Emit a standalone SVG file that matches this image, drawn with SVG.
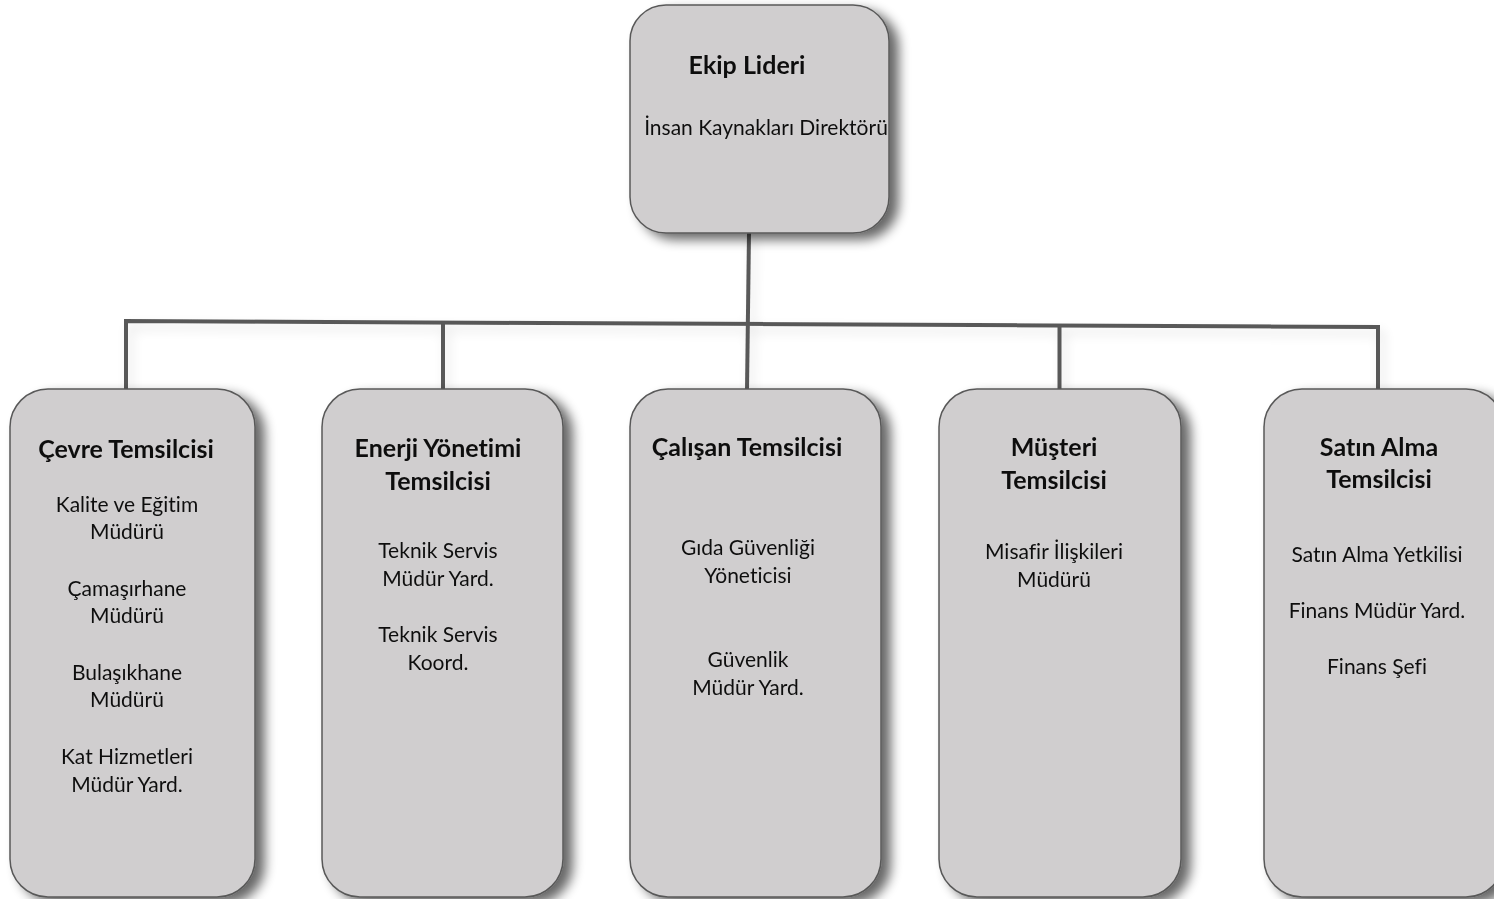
<svg xmlns="http://www.w3.org/2000/svg" width="1494" height="899" viewBox="0 0 1494 899">
<defs>
<filter id="sh" x="-20%" y="-20%" width="150%" height="150%">
<feGaussianBlur in="SourceAlpha" stdDeviation="6" result="b"/>
<feOffset in="b" dx="9" dy="6" result="o"/>
<feComponentTransfer in="o" result="c"><feFuncA type="linear" slope="0.6"/></feComponentTransfer>
<feMerge><feMergeNode in="c"/><feMergeNode in="SourceGraphic"/></feMerge>
</filter>
<filter id="lsh" x="-5%" y="-50%" width="110%" height="200%">
<feGaussianBlur in="SourceAlpha" stdDeviation="6" result="b"/>
<feOffset in="b" dx="4" dy="6" result="o"/>
<feComponentTransfer in="o" result="c"><feFuncA type="linear" slope="0.12"/></feComponentTransfer>
<feMerge><feMergeNode in="c"/><feMergeNode in="SourceGraphic"/></feMerge>
</filter>
</defs>
<style>
.box{fill:#d0cecf;stroke:#595959;stroke-width:1.5}
.ln{stroke:#595959;stroke-width:4;fill:none}
text{font-family:Lato,"Liberation Sans",sans-serif;fill:#111;text-anchor:middle;font-variant-ligatures:none}
.t{font-weight:bold;font-size:25px}
.s{font-size:21px}
</style>
<rect width="1494" height="899" fill="#ffffff"/>
<g id="connectors" filter="url(#lsh)">
<path class="ln" d="M749 233 L747 390"/>
<path class="ln" d="M126 392 L126 321 L1378 327 L1378 390"/>
<path class="ln" d="M443 389 L443 322.5"/>
<path class="ln" d="M1059.5 389 L1059.5 325.5"/>
</g>
<g id="n0" filter="url(#sh)">
<rect class="box" x="630" y="5" width="259" height="228" rx="36"/>
<text class="t" x="747" y="74">Ekip Lideri</text>
<text class="s" x="766" y="135">İnsan Kaynakları Direktörü</text>
</g>
<g id="n1" filter="url(#sh)">
<rect class="box" x="10" y="389" width="245" height="508" rx="38"/>
<text class="t" x="126" y="458">Çevre Temsilcisi</text>
<text class="s" x="127" y="512">Kalite ve Eğitim</text>
<text class="s" x="127" y="539">Müdürü</text>
<text class="s" x="127" y="596">Çamaşırhane</text>
<text class="s" x="127" y="623">Müdürü</text>
<text class="s" x="127" y="680">Bulaşıkhane</text>
<text class="s" x="127" y="707">Müdürü</text>
<text class="s" x="127" y="764">Kat Hizmetleri</text>
<text class="s" x="127" y="792">Müdür Yard.</text>
</g>
<g id="n2" filter="url(#sh)">
<rect class="box" x="322" y="389" width="241" height="508" rx="38"/>
<text class="t" x="438" y="457">Enerji Yönetimi</text>
<text class="t" x="438" y="490">Temsilcisi</text>
<text class="s" x="438" y="558">Teknik Servis</text>
<text class="s" x="438" y="586">Müdür Yard.</text>
<text class="s" x="438" y="642">Teknik Servis</text>
<text class="s" x="438" y="670">Koord.</text>
</g>
<g id="n3" filter="url(#sh)">
<rect class="box" x="630" y="389" width="251" height="508" rx="38"/>
<text class="t" x="747" y="456">Çalışan Temsilcisi</text>
<text class="s" x="748" y="555">Gıda Güvenliği</text>
<text class="s" x="748" y="583">Yöneticisi</text>
<text class="s" x="748" y="667">Güvenlik</text>
<text class="s" x="748" y="695">Müdür Yard.</text>
</g>
<g id="n4" filter="url(#sh)">
<rect class="box" x="939" y="389" width="242" height="508" rx="38"/>
<text class="t" x="1054" y="456">Müşteri</text>
<text class="t" x="1054" y="489">Temsilcisi</text>
<text class="s" x="1054" y="559">Misafir İlişkileri</text>
<text class="s" x="1054" y="587">Müdürü</text>
</g>
<g id="n5" filter="url(#sh)">
<rect class="box" x="1264" y="389" width="240" height="508" rx="38"/>
<text class="t" x="1379" y="456">Satın Alma</text>
<text class="t" x="1379" y="488">Temsilcisi</text>
<text class="s" x="1377" y="562">Satın Alma Yetkilisi</text>
<text class="s" x="1377" y="618">Finans Müdür Yard.</text>
<text class="s" x="1377" y="674">Finans Şefi</text>
</g>
</svg>
